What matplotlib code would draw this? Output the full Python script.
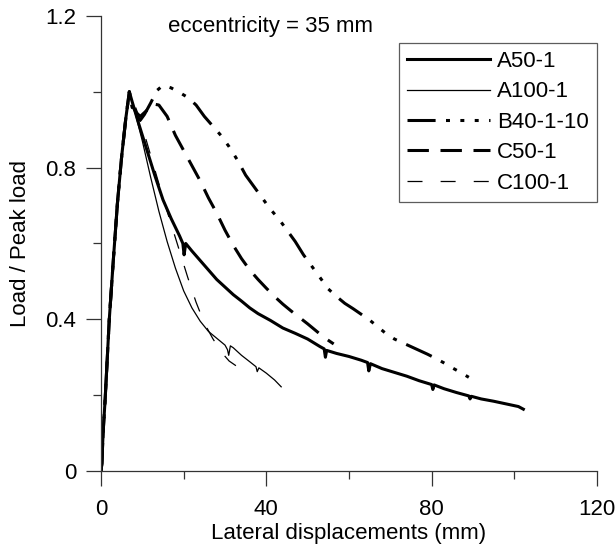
import matplotlib
matplotlib.use("Agg")
import matplotlib.pyplot as plt
from matplotlib.ticker import MultipleLocator

plt.rcParams['font.family'] = ['Liberation Sans', 'DejaVu Sans']
plt.rcParams['font.size'] = 16

# common elastic branch up to peak load
rise_x = [0, 0.2, 0.5, 1.0, 2.0, 3.0, 4.0, 5.0, 6.0, 6.85]
rise_y = [0, 0.02, 0.1, 0.19, 0.4, 0.56, 0.71, 0.83, 0.93, 1.0]

a50_x = [7.5, 9, 11, 13, 15, 17, 19, 19.8, 20.1, 20.5, 22, 24, 26, 28, 30, 32, 34, 36, 38, 41, 44, 47, 50,
         53, 54, 54.3, 54.6, 57, 60, 63, 64.5, 64.8, 65.2, 68, 71, 74, 77, 80, 80.3, 80.6, 83, 86, 89, 89.3,
         89.6, 92, 95, 98, 101, 102.2]
a50_y = [0.975, 0.92, 0.85, 0.78, 0.715, 0.665, 0.62, 0.6, 0.57, 0.6, 0.58, 0.555, 0.53, 0.505, 0.485,
         0.465, 0.448, 0.43, 0.415, 0.397, 0.377, 0.363, 0.348, 0.328, 0.322, 0.3, 0.318, 0.31, 0.302, 0.292,
         0.286, 0.264, 0.283, 0.27, 0.26, 0.25, 0.238, 0.228, 0.215, 0.227, 0.217, 0.207, 0.198, 0.19, 0.197,
         0.19, 0.184, 0.177, 0.17, 0.163]

a100_x = [8, 10, 12, 14, 16, 18, 20, 22, 24, 26, 28, 30, 30.6, 30.9, 31.3, 32, 34, 36, 37.5, 37.8, 38.2,
          40, 42, 43.6]
a100_y = [0.955, 0.87, 0.775, 0.685, 0.605, 0.535, 0.475, 0.43, 0.395, 0.368, 0.35, 0.332, 0.32, 0.305,
          0.33, 0.325, 0.305, 0.288, 0.275, 0.262, 0.272, 0.258, 0.24, 0.222]

b40_x = [7.5, 8.5, 9.5, 10.5, 12, 13.5, 15, 17, 19, 21, 23, 25, 27, 29, 31, 33, 35, 37, 39, 41, 43, 45,
         47, 49, 51, 53, 55, 57, 59, 61, 63, 65, 67, 69, 71, 73, 75, 77, 79, 81, 83, 85, 87, 89]
b40_y = [0.96, 0.935, 0.925, 0.94, 0.97, 1.003, 1.017, 1.01, 0.998, 0.985, 0.965, 0.935, 0.91, 0.885,
         0.855, 0.82, 0.78, 0.75, 0.72, 0.69, 0.665, 0.635, 0.605, 0.57, 0.54, 0.51, 0.48, 0.46, 0.442,
         0.428, 0.413, 0.398, 0.38, 0.362, 0.348, 0.338, 0.328, 0.318, 0.308, 0.297, 0.285, 0.272, 0.26,
         0.247]

c50_x = [7.5, 8.5, 9.5, 11, 12.5, 14, 16, 18, 20, 22, 24, 26, 28, 30, 32, 34, 36, 38, 40, 42, 44, 46,
         48, 50, 52, 54, 56.3]
c50_y = [0.965, 0.945, 0.935, 0.95, 0.968, 0.965, 0.935, 0.885, 0.845, 0.805, 0.765, 0.72, 0.68, 0.635,
         0.595, 0.56, 0.53, 0.505, 0.482, 0.46, 0.44, 0.422, 0.405, 0.388, 0.37, 0.352, 0.335]

c100_x = [8, 9, 11, 13, 15, 17, 19, 21, 23, 25, 27, 29, 31, 33]
c100_y = [0.97, 0.94, 0.87, 0.795, 0.72, 0.65, 0.58, 0.51, 0.445, 0.39, 0.35, 0.315, 0.29, 0.275]

labels = ['A50-1', 'A100-1', 'B40-1-10', 'C50-1', 'C100-1']
x_ticks = [0, 40, 80, 120]
y_ticks = [0, 0.4, 0.8, 1.2]
y_tick_labels = ['0', '0.4', '0.8', '1.2']

fig = plt.figure(figsize=(6.16, 5.48), dpi=100)
ax = fig.add_axes([0.164, 0.1405, 0.805, 0.8305])

thick = 2.2
thin = 0.9
series = [
    (a50_x, a50_y, thick, '-'),
    (a100_x, a100_y, thin, '-'),
    (b40_x, b40_y, thick, (0, (9.2, 3.4, 1.3, 3.4, 1.3, 3.4, 1.3, 3.4))),
    (c50_x, c50_y, thick, (0, (7.0, 3.8))),
    (c100_x, c100_y, thin, (0, (12, 14.5))),
]
for (xs, ys, lw, ls), lab in zip(series, labels):
    ax.plot(rise_x + xs, rise_y + ys, color='black', lw=lw, linestyle=ls,
            dash_capstyle='butt', label=lab)

ax.set_xlim(0, 120)
ax.set_ylim(0, 1.2)
ax.set_xticks(x_ticks)
ax.set_xticklabels([str(v) for v in x_ticks])
ax.set_yticks(y_ticks)
ax.set_yticklabels(y_tick_labels)
ax.xaxis.set_minor_locator(MultipleLocator(20))
ax.yaxis.set_minor_locator(MultipleLocator(0.2))
ax.tick_params(which='major', direction='out', length=11, width=0.9, color='#333333', labelsize=16)
ax.tick_params(axis='y', which='major', pad=7)
ax.tick_params(axis='x', which='major', pad=9)
ax.tick_params(which='minor', direction='out', length=6, width=0.9, color='#333333')
for s in ['top', 'right']:
    ax.spines[s].set_visible(False)
for s in ['left', 'bottom']:
    ax.spines[s].set_linewidth(0.9)
    ax.spines[s].set_color('#333333')

ax.set_xlabel('Lateral displacements (mm)', fontsize=16, labelpad=2)
ax.set_ylabel('Load / Peak load', fontsize=16, labelpad=10)

ax.text(16.2, 1.171, 'eccentricity = 35 mm', fontsize=16, ha='left', va='center')


def make_legend(spacing):
    lg = ax.legend(loc='upper right', bbox_to_anchor=(1.0, 0.9407), borderaxespad=0,
                   frameon=True, fancybox=False, shadow=False, fontsize=16,
                   handlelength=3.75, handletextpad=0.3, labelspacing=spacing, borderpad=0.37)
    lg.get_frame().set_edgecolor('#333333')
    lg.get_frame().set_linewidth(0.9)
    return lg


# fit the legend box height to the reference (about 159 px)
spacing = 0.22
leg = make_legend(spacing)
fig.canvas.draw()
h = leg.get_window_extent(fig.canvas.get_renderer()).height
fs_px = 16 * fig.dpi / 72
spacing = max(0.0, spacing + (159 - h) / (4 * fs_px))
leg = make_legend(spacing)

fig.savefig('out.png', dpi=100)
